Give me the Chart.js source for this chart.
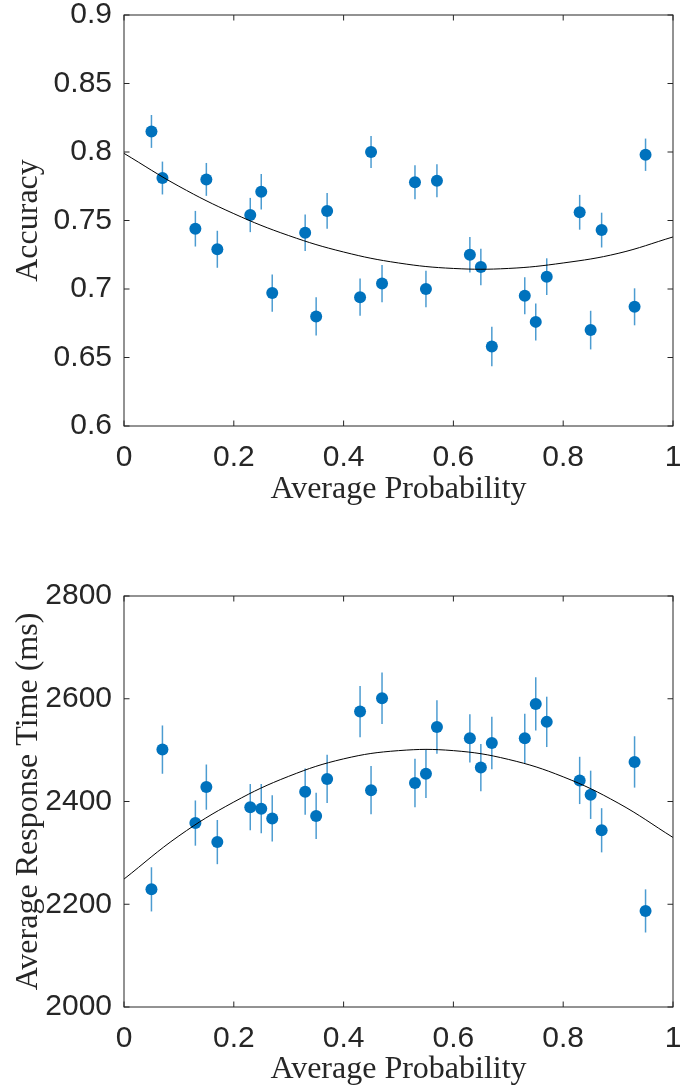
<!DOCTYPE html>
<html>
<head>
<meta charset="utf-8">
<title>Accuracy and response time vs average probability</title>
<script src="https://cdn.jsdelivr.net/npm/chart.js@4"></script>
<style>
  body { margin: 0; background: #fff; }
  .panel { position: absolute; left: 0; width: 680px; height: 545px; }
</style>
</head>
<body>
<div class="panel" style="top:0"><canvas id="accChart" width="680" height="545"></canvas></div>
<div class="panel" style="top:545px"><canvas id="rtChart" width="680" height="545"></canvas></div>
<script>
// values
const probs = [0.05, 0.07, 0.13, 0.15, 0.17, 0.23, 0.25, 0.27, 0.33, 0.35, 0.37, 0.43, 0.45, 0.47,
               0.53, 0.55, 0.57, 0.63, 0.65, 0.67, 0.73, 0.75, 0.77, 0.83, 0.85, 0.87, 0.93, 0.95];
const accuracy = [0.815, 0.781, 0.744, 0.780, 0.729, 0.754, 0.771, 0.697, 0.741, 0.680, 0.757, 0.694, 0.800, 0.704,
                  0.778, 0.700, 0.779, 0.725, 0.716, 0.658, 0.695, 0.676, 0.709, 0.756, 0.670, 0.743, 0.687, 0.798];
const accErr = [0.012, 0.012, 0.013, 0.012, 0.0135, 0.0125, 0.013, 0.0136, 0.0133, 0.014, 0.013, 0.0136, 0.0117, 0.0136,
                0.0124, 0.0134, 0.012, 0.013, 0.0133, 0.0144, 0.0135, 0.0135, 0.0134, 0.0127, 0.0141, 0.0127, 0.0135, 0.0118];
const responseTime = [2229, 2501, 2358, 2428, 2321, 2389, 2386, 2367, 2419, 2372, 2444, 2575, 2422, 2601,
                      2436, 2454, 2545, 2523, 2466, 2514, 2523, 2590, 2555, 2441, 2413, 2344, 2477, 2187];
const rtErr = [43, 47, 44, 44, 43, 45, 48, 45, 45, 45, 47, 50, 47, 50,
               47, 47, 52, 47, 46, 51, 48, 52, 49, 46, 47, 43, 50, 42];

// fitted curves, sampled off the plotted line
const fitX = [0, 0.1, 0.2, 0.3, 0.4, 0.5, 0.6, 0.7, 0.8, 0.9, 1];
const accFit = [0.799, 0.775, 0.755, 0.739, 0.727, 0.719, 0.715, 0.715, 0.719, 0.726, 0.738];
const rtFit = [2249, 2333, 2399, 2449, 2483, 2499, 2499, 2482, 2448, 2397, 2330];

// tick labels
const xTicks = ['0', '0.2', '0.4', '0.6', '0.8', '1'];
const accTicks = ['0.6', '0.65', '0.7', '0.75', '0.8', '0.85', '0.9'];
const rtTicks = ['2000', '2200', '2400', '2600', '2800'];

const blue = '#0072BD';
const axisColor = '#262626';
const tickFont = { family: 'Liberation Sans, Arial, sans-serif', size: 30 };
const titleFont = { family: 'Liberation Serif, Times New Roman, serif', size: 32 };

// vertical error bars, drawn under the dots
function errorBars(values, errs) {
    return {
        id: 'errorBars',
        beforeDatasetsDraw(chart) {
            const { ctx, scales: { x, y } } = chart;
            ctx.save();
            ctx.strokeStyle = 'rgba(0, 114, 189, 0.7)';
            ctx.lineWidth = 1.5;
            values.forEach((v, i) => {
                const px = x.getPixelForValue(probs[i]);
                ctx.beginPath();
                ctx.moveTo(px, y.getPixelForValue(v - errs[i]));
                ctx.lineTo(px, y.getPixelForValue(v + errs[i]));
                ctx.stroke();
            });
            ctx.restore();
        }
    };
}

// matlab style box with inward ticks on all four sides
const frame = {
    id: 'frame',
    afterDraw(chart) {
        const { ctx, chartArea: a, scales: { x, y } } = chart;
        const t = 5.5;
        ctx.save();
        ctx.strokeStyle = axisColor;
        ctx.lineWidth = 1;
        ctx.strokeRect(a.left, a.top, a.right - a.left, a.bottom - a.top);
        ctx.beginPath();
        x.ticks.forEach(tk => {
            const px = x.getPixelForValue(tk.value);
            ctx.moveTo(px, a.bottom); ctx.lineTo(px, a.bottom - t);
            ctx.moveTo(px, a.top); ctx.lineTo(px, a.top + t);
        });
        y.ticks.forEach(tk => {
            const py = y.getPixelForValue(tk.value);
            ctx.moveTo(a.left, py); ctx.lineTo(a.left + t, py);
            ctx.moveTo(a.right, py); ctx.lineTo(a.right - t, py);
        });
        ctx.stroke();
        ctx.restore();
    }
};

// fixed axis sizes, and no extra room for overhanging tick labels
function fixSize(s, w, h) {
    if (w) s.width = w;
    if (h) s.height = h;
    s.paddingLeft = s.paddingRight = s.paddingTop = s.paddingBottom = 0;
}

function makeChart(id, values, errs, fit, yTicks, yTitle, box) {
    const ctx = document.getElementById(id).getContext('2d');
    return new Chart(ctx, {
        type: 'scatter',
        data: {
            datasets: [
                {
                    type: 'line',
                    data: fitX.map((x, i) => ({ x: x, y: fit[i] })),
                    borderColor: '#000',
                    borderWidth: 1,
                    pointRadius: 0,
                    tension: 0.4,
                    fill: false,
                    order: 0
                },
                {
                    data: probs.map((x, i) => ({ x: x, y: values[i] })),
                    backgroundColor: blue,
                    borderWidth: 0,
                    pointRadius: 6,
                    order: 1
                }
            ]
        },
        options: {
            responsive: false,
            animation: false,
            layout: { autoPadding: false, padding: { top: box.top, right: 7, bottom: 0, left: 0 } },
            plugins: { legend: { display: false }, tooltip: { enabled: false } },
            scales: {
                x: {
                    type: 'linear',
                    min: 0,
                    max: 1,
                    afterBuildTicks: s => { s.ticks = xTicks.map(v => ({ value: Number(v) })); },
                    afterFit: s => fixSize(s, 0, box.xh),
                    grid: { display: false },
                    border: { display: false },
                    ticks: { padding: 6, font: tickFont, color: axisColor, maxRotation: 0, autoSkip: false,
                             callback: (v, i) => xTicks[i] },
                    title: { display: true, text: 'Average Probability', font: titleFont, color: axisColor,
                             padding: { top: 0, bottom: box.titlePad } }
                },
                y: {
                    min: Number(yTicks[0]),
                    max: Number(yTicks[yTicks.length - 1]),
                    afterBuildTicks: s => { s.ticks = yTicks.map(v => ({ value: Number(v) })); },
                    afterFit: s => fixSize(s, 124, 0),
                    grid: { display: false },
                    border: { display: false },
                    ticks: { padding: 4, font: tickFont, color: axisColor, autoSkip: false,
                             callback: (v, i) => yTicks[i] },
                    title: { display: true, text: yTitle, font: titleFont, color: axisColor,
                             padding: { top: 9, bottom: 0 } }
                }
            }
        },
        plugins: [errorBars(values, errs), frame]
    });
}

makeChart('accChart', accuracy, accErr, accFit, accTicks, 'Accuracy', { top: 15, xh: 119, titlePad: 36 });
makeChart('rtChart', responseTime, rtErr, rtFit, rtTicks, 'Average Response Time (ms)', { top: 51, xh: 83, titlePad: 1 });
</script>
</body>
</html>
